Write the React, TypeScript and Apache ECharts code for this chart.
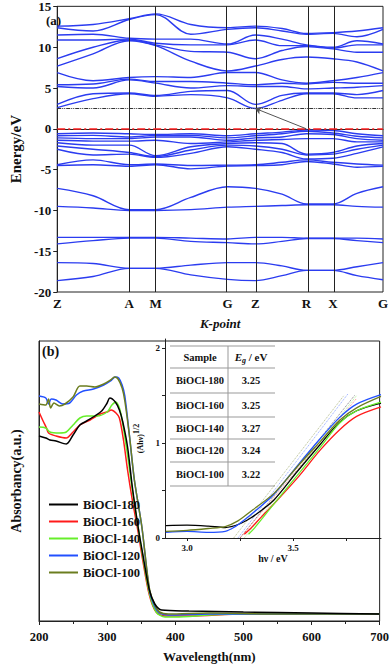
import React, { useEffect, useRef } from 'react';
import * as echarts from 'echarts';

const SERIF = "'Liberation Serif', 'Times New Roman', serif";

// ---------- Panel (a): band structure ----------
const kPos = [0, 0.11, 0.221, 0.302, 0.41, 0.523, 0.608, 0.69, 0.765, 0.846, 0.92, 1];
const kLabelPos = [0, 0.221, 0.302, 0.523, 0.608, 0.765, 0.846, 1];
const kLabels = ['Z', 'A', 'M', 'G', 'Z', 'R', 'X', 'G'];
const energyTicks = [-20, -15, -10, -5, 0, 5, 10, 15];
const cbmEnergy = 2.5;
const arrowFrom = [0.765, 0];
const arrowTo = [0.608, 2.5];

const conductionBands = [
  [12.6, 12.8, 13.5, 14.1, 12.8, 12.4, 12.6, 12.3, 11.7, 11.8, 12.0, 12.4],
  [12.4, 12.0, 13.4, 14.0, 11.6, 12.2, 12.4, 12.0, 11.6, 11.7, 11.3, 12.2],
  [11.5, 11.6, 11.1, 11.0, 11.0, 10.4, 11.5, 11.0, 10.3, 10.0, 10.8, 10.4],
  [10.9, 10.9, 11.0, 10.5, 10.3, 10.3, 10.9, 10.2, 10.2, 9.9, 10.3, 10.3],
  [8.6, 10.0, 10.9, 10.3, 9.5, 9.4, 8.6, 9.6, 10.1, 9.8, 9.4, 9.4],
  [7.7, 9.2, 10.8, 10.2, 8.3, 7.1, 7.7, 8.5, 8.8, 8.6, 8.2, 7.1],
  [6.9, 5.9, 6.3, 6.4, 6.3, 6.9, 6.9, 6.0, 5.6, 5.9, 6.3, 6.9],
  [5.4, 5.5, 6.1, 5.8, 5.8, 5.6, 5.4, 5.6, 5.5, 5.7, 5.6, 5.6],
  [5.2, 5.0, 6.0, 5.6, 5.0, 5.3, 5.2, 5.2, 4.9, 5.0, 5.1, 5.3],
  [3.0, 4.3, 4.4, 4.1, 4.6, 4.7, 3.0, 4.1, 4.4, 4.4, 4.2, 4.7],
  [2.6, 3.7, 4.3, 4.0, 4.2, 3.8, 2.5, 3.5, 4.3, 4.3, 3.8, 3.8],
];
const valenceBands = [
  [-0.6, -0.5, -0.6, -0.7, -0.6, -0.85, -0.6, -0.4, -0.15, -0.2, -0.6, -0.85],
  [-0.85, -0.8, -1.0, -0.8, -0.8, -1.1, -0.85, -0.6, -0.3, -0.5, -0.9, -1.1],
  [-1.1, -1.2, -1.2, -1.0, -1.0, -1.4, -1.1, -1.0, -0.6, -0.7, -1.2, -1.4],
  [-1.4, -1.5, -1.5, -1.4, -1.8, -1.6, -1.4, -1.3, -1.2, -1.2, -1.6, -1.6],
  [-1.7, -2.0, -2.0, -3.3, -2.2, -1.8, -1.7, -1.8, -3.1, -2.9, -2.1, -1.8],
  [-2.1, -2.5, -2.9, -3.4, -2.6, -2.0, -2.1, -2.5, -3.2, -3.1, -2.5, -2.0],
  [-2.5, -3.2, -3.1, -3.5, -3.0, -2.2, -2.5, -2.9, -3.7, -3.6, -3.0, -2.2],
  [-4.4, -3.8, -4.4, -4.3, -4.5, -4.45, -4.4, -4.1, -3.8, -4.1, -4.3, -4.45],
  [-4.5, -4.4, -4.6, -4.4, -4.9, -4.55, -4.5, -4.4, -4.0, -4.3, -4.7, -4.6],
];
const deepBands = [
  [-7.3, -8.2, -9.9, -9.9, -8.4, -7.1, -7.3, -8.0, -9.2, -9.2, -7.9, -7.1],
  [-9.5, -9.7, -10.0, -10.0, -9.9, -9.6, -9.5, -9.4, -9.3, -9.3, -9.5, -9.6],
  [-13.3, -13.3, -13.3, -13.3, -13.4, -13.5, -13.3, -13.3, -13.4, -13.4, -13.4, -13.5],
  [-14.1, -13.7, -13.4, -13.4, -13.8, -13.95, -14.1, -13.8, -13.45, -13.45, -13.7, -13.95],
  [-16.4, -16.5, -17.1, -17.1, -16.7, -16.4, -16.4, -16.8, -17.35, -17.35, -16.9, -16.4],
  [-18.6, -18.1, -17.1, -17.1, -17.9, -18.45, -18.6, -18.0, -17.35, -17.35, -18.0, -18.5],
];

// ---------- Panel (b): UV-vis absorbance ----------
const sampleNames = ['BiOCl-180', 'BiOCl-160', 'BiOCl-140', 'BiOCl-120', 'BiOCl-100'];
const sampleColors = ['#000000', '#ff1a1a', '#66ee2a', '#2250ff', '#6b7d1f'];
const bandGaps = ['3.25', '3.25', '3.27', '3.24', '3.22'];

const abs180 = [[200, 1.85], [210, 1.83], [216, 1.81], [225, 1.80], [240, 1.77], [250, 1.86], [260, 1.96], [270, 2.0], [282, 2.05], [292, 2.1], [300, 2.18], [304, 2.23], [312, 2.19], [318, 2.11], [323, 1.99], [330, 1.74], [337, 1.34], [345, 0.96], [352, 0.68], [362, 0.31], [370, 0.17], [380, 0.11], [420, 0.1], [500, 0.09], [600, 0.08], [700, 0.07]];
const abs160 = [[200, 2.09], [206, 2.0], [211, 1.93], [214, 1.88], [225, 1.85], [240, 1.83], [250, 1.89], [260, 1.96], [275, 2.01], [290, 2.07], [300, 2.09], [306, 2.11], [313, 2.08], [318, 2.03], [324, 1.81], [330, 1.51], [337, 1.21], [345, 0.91], [352, 0.62], [362, 0.26], [372, 0.09], [385, 0.05], [420, 0.05], [500, 0.07], [600, 0.07], [700, 0.07]];
const abs140 = [[200, 1.94], [210, 1.93], [216, 1.89], [230, 1.88], [240, 1.89], [250, 1.96], [260, 2.03], [270, 2.05], [285, 2.05], [300, 2.09], [307, 2.16], [313, 2.19], [318, 2.13], [322, 2.01], [330, 1.66], [337, 1.31], [345, 0.96], [352, 0.66], [362, 0.28], [372, 0.09], [385, 0.04], [400, 0.04], [450, 0.06], [500, 0.07], [600, 0.07], [700, 0.07]];
const abs120 = [[200, 2.25], [210, 2.23], [214, 2.17], [218, 2.22], [225, 2.21], [235, 2.17], [245, 2.18], [255, 2.26], [265, 2.3], [280, 2.32], [295, 2.36], [305, 2.4], [312, 2.44], [317, 2.43], [322, 2.36], [326, 2.25], [333, 1.84], [340, 1.41], [351, 0.94], [362, 0.31], [370, 0.14], [377, 0.08], [390, 0.06], [450, 0.07], [550, 0.07], [700, 0.07]];
const abs100 = [[200, 2.17], [210, 2.16], [214, 2.22], [217, 2.13], [222, 2.18], [230, 2.15], [238, 2.17], [250, 2.24], [260, 2.35], [270, 2.35], [282, 2.34], [295, 2.37], [305, 2.41], [311, 2.44], [316, 2.42], [322, 2.33], [326, 2.2], [333, 1.84], [340, 1.41], [351, 0.94], [362, 0.33], [370, 0.16], [377, 0.09], [390, 0.07], [450, 0.08], [550, 0.07], [700, 0.07]];
const absorbance = [abs180, abs160, abs140, abs120, abs100];

// inset: Tauc plot (hv, (Ahv)^1/2)
const tauc180 = [[2.9, 0.13], [3.0, 0.135], [3.1, 0.125], [3.18, 0.11], [3.25, 0.15], [3.3, 0.21], [3.35, 0.29], [3.41, 0.4], [3.52, 0.7], [3.63, 0.99], [3.72, 1.22], [3.8, 1.34], [3.915, 1.42]];
const tauc160 = [[3.27, 0.04], [3.3, 0.1], [3.35, 0.22], [3.41, 0.36], [3.52, 0.63], [3.63, 0.93], [3.72, 1.14], [3.8, 1.28], [3.915, 1.38]];
const tauc140 = [[3.29, 0.04], [3.32, 0.11], [3.36, 0.22], [3.41, 0.36], [3.52, 0.66], [3.63, 0.96], [3.72, 1.21], [3.8, 1.34], [3.915, 1.43]];
const tauc120 = [[2.9, 0.06], [3.0, 0.07], [3.1, 0.06], [3.18, 0.07], [3.22, 0.11], [3.27, 0.19], [3.33, 0.3], [3.41, 0.46], [3.52, 0.76], [3.63, 1.05], [3.72, 1.27], [3.8, 1.41], [3.915, 1.51]];
const tauc100 = [[2.9, 0.07], [3.0, 0.08], [3.1, 0.1], [3.18, 0.12], [3.24, 0.18], [3.3, 0.28], [3.41, 0.47], [3.52, 0.75], [3.63, 1.02], [3.72, 1.24], [3.8, 1.37], [3.915, 1.49]];
const tauc = [tauc180, tauc160, tauc140, tauc120, tauc100];
const tangentTops = [[3.79, 1.5], [3.8, 1.47], [3.8, 1.5], [3.76, 1.52], [3.74, 1.5]];
const insetXLabels = [3.0, 3.5];
const insetXTicks = [3.0, 3.25, 3.5, 3.75];
const insetYLabels = [0, 1, 2];
const insetYTicks = [0, 0.5, 1, 1.5, 2];

const BAND_COLOR = '#2b3cf0';

function buildOption() {
  const allBands = [...conductionBands, ...valenceBands, ...deepBands];
  const bandSeries: any[] = allBands.map((b, bi) => ({
    name: 'band' + bi,
    type: 'line',
    xAxisIndex: 0,
    yAxisIndex: 0,
    data: kPos.map((k, i) => [k, b[i]]),
    showSymbol: false,
    smooth: 0.35,
    lineStyle: { color: BAND_COLOR, width: 1.4 },
    silent: true,
    z: 3,
  }));

  const refLines: any = {
    name: 'refs',
    type: 'line',
    xAxisIndex: 0,
    yAxisIndex: 0,
    data: [],
    silent: true,
    z: 4,
    markLine: {
      silent: true,
      symbol: 'none',
      label: { show: false },
      data: [
        ...kLabelPos.slice(1, -1).map((x) => ({ xAxis: x, lineStyle: { color: '#222', width: 1, type: 'solid' } })),
        { yAxis: 0, lineStyle: { color: '#ff2020', width: 1.5, type: [8, 3, 2, 3] } },
        { yAxis: cbmEnergy, lineStyle: { color: '#333', width: 1, type: [4, 1, 1, 1, 1, 1] } },
        [
          { coord: arrowFrom, symbol: 'none' },
          { coord: arrowTo, symbol: 'arrow', symbolSize: 6 },
        ],
      ],
      lineStyle: { color: '#555', width: 1, type: 'solid' },
    },
  };

  const absSeries = absorbance.map((d, i) => ({
    name: sampleNames[i],
    type: 'line',
    xAxisIndex: 1,
    yAxisIndex: 1,
    data: d,
    showSymbol: false,
    smooth: 0.3,
    lineStyle: { color: sampleColors[i], width: 1.5 },
    itemStyle: { color: sampleColors[i] },
    z: 3 + (i === 0 ? 5 : 0),
  }));

  const taucSeries = tauc.map((d, i) => ({
    name: sampleNames[i],
    type: 'line',
    xAxisIndex: 2,
    yAxisIndex: 2,
    data: d,
    showSymbol: false,
    smooth: 0.3,
    lineStyle: { color: sampleColors[i], width: 1.3 },
    itemStyle: { color: sampleColors[i] },
    z: 3,
  }));

  const tangentSeries = tangentTops.map((t, i) => ({
    name: 'tangent' + i,
    type: 'line',
    xAxisIndex: 2,
    yAxisIndex: 2,
    data: [[parseFloat(bandGaps[i]), 0], t],
    showSymbol: false,
    lineStyle: { color: sampleColors[i], width: 1, type: 'dotted', opacity: 0.5 },
    silent: true,
    z: 2,
  }));

  // table in inset
  const tLeft = 170, tRight = 275, tMid = 228;
  const rowLines = [346, 368, 393, 417, 439, 462, 486];
  const tableEls: any[] = [];
  rowLines.forEach((y) => {
    tableEls.push({ type: 'line', shape: { x1: tLeft, y1: y, x2: tRight, y2: y }, style: { stroke: '#999', lineWidth: 1 } });
  });
  tableEls.push({ type: 'line', shape: { x1: tMid, y1: rowLines[0], x2: tMid, y2: rowLines[rowLines.length - 1] }, style: { stroke: '#999', lineWidth: 1 } });
  const cellText = (x: number, y: number, t: string, extra: any = {}) => ({
    type: 'text', x, y,
    style: { text: t, fontFamily: SERIF, fontWeight: 'bold', fontSize: 10.5, fill: '#111', align: 'center', verticalAlign: 'middle', ...extra },
  });
  tableEls.push(cellText(200, 357, 'Sample'));
  tableEls.push(cellText(251, 357, '{i|E}{s|g}{n| / eV}', {
    rich: {
      i: { fontStyle: 'italic', fontWeight: 'bold', fontSize: 11, fontFamily: SERIF, fill: '#111' },
      s: { fontStyle: 'italic', fontWeight: 'bold', fontSize: 8, fontFamily: SERIF, fill: '#111', padding: [7, 0, 0, 0] },
      n: { fontWeight: 'bold', fontSize: 11, fontFamily: SERIF, fill: '#111' },
    },
  }));
  sampleNames.forEach((n, i) => {
    const yc = (rowLines[i + 1] + rowLines[i + 2]) / 2;
    tableEls.push(cellText(200, yc, n));
    tableEls.push(cellText(251, yc, bandGaps[i]));
  });

  return {
    animation: false,
    backgroundColor: '#fff',
    textStyle: { fontFamily: SERIF },
    grid: [
      { left: 39, top: 6, width: 344, height: 286, show: true, borderColor: '#222', borderWidth: 1, backgroundColor: 'transparent' },
      { left: 39, top: 341, width: 342, height: 280, show: true, borderColor: '#222', borderWidth: 1, backgroundColor: 'transparent' },
      { left: 165, top: 339, width: 216, height: 199, show: false },
    ],
    xAxis: [
      {
        gridIndex: 0, type: 'value', min: 0, max: 1,
        axisLine: { show: true, lineStyle: { color: '#222' } },
        axisTick: { show: false },
        splitLine: { show: false },
        axisLabel: {
          customValues: kLabelPos,
          showMinLabel: true, showMaxLabel: true, hideOverlap: false,
          margin: 5,
          formatter: (v: number) => {
            const i = kLabelPos.findIndex((p) => Math.abs(p - v) < 1e-6);
            return i >= 0 ? kLabels[i] : '';
          },
          color: '#111', fontFamily: SERIF, fontWeight: 'bold', fontSize: 13,
        },
        name: 'K-point', nameLocation: 'middle', nameGap: 25,
        nameTextStyle: { fontFamily: SERIF, fontWeight: 'bold', fontStyle: 'italic', fontSize: 13, color: '#111' },
      },
      {
        gridIndex: 1, type: 'value', min: 200, max: 700, interval: 100,
        axisLine: { show: true, lineStyle: { color: '#222' } },
        axisTick: { show: true, length: 4, lineStyle: { color: '#222' } },
        minorTick: { show: true, splitNumber: 2, length: 3, lineStyle: { color: '#222' } },
        splitLine: { show: false },
        axisLabel: {
          showMinLabel: true, showMaxLabel: true,
          margin: 9, color: '#111', fontFamily: SERIF, fontWeight: 'bold', fontSize: 12.5,
        },
        name: 'Wavelength(nm)', nameLocation: 'middle', nameGap: 29,
        nameTextStyle: { fontFamily: SERIF, fontWeight: 'bold', fontSize: 13, color: '#111' },
      },
      {
        gridIndex: 2, type: 'value', min: 2.896, max: 3.915,
        axisLine: { show: true, onZero: false, lineStyle: { color: '#222' } },
        axisTick: { show: true, customValues: insetXTicks, length: 3, lineStyle: { color: '#222' } },
        splitLine: { show: false },
        axisLabel: {
          customValues: insetXLabels,
          formatter: (v: number) => v.toFixed(1),
          margin: 5, color: '#111', fontFamily: SERIF, fontWeight: 'bold', fontSize: 9,
        },
        name: 'hν / eV', nameLocation: 'middle', nameGap: 15,
        nameTextStyle: { fontFamily: SERIF, fontWeight: 'bold', fontSize: 10, color: '#111' },
      },
    ],
    yAxis: [
      {
        gridIndex: 0, type: 'value', min: -20, max: 15.02,
        axisLine: { show: true, lineStyle: { color: '#222' } },
        axisTick: { show: true, customValues: energyTicks, length: 4, lineStyle: { color: '#222' } },
        splitLine: { show: false },
        axisLabel: {
          customValues: energyTicks,
          margin: 6, color: '#111', fontFamily: SERIF, fontWeight: 'bold', fontSize: 13,
        },
        name: 'Energy/eV', nameLocation: 'middle', nameGap: 22,
        nameTextStyle: { fontFamily: SERIF, fontWeight: 'bold', fontSize: 15, color: '#111' },
      },
      {
        gridIndex: 1, type: 'value', min: 0, max: 2.8,
        axisLine: { show: true, lineStyle: { color: '#222' } },
        axisTick: { show: false },
        axisLabel: { show: false },
        splitLine: { show: false },
        name: 'Absorbancy(a.u.)', nameLocation: 'middle', nameGap: 16,
        nameTextStyle: { fontFamily: SERIF, fontWeight: 'bold', fontSize: 14, color: '#111' },
      },
      {
        gridIndex: 2, type: 'value', min: 0, max: 2.095,
        axisLine: { show: true, onZero: false, lineStyle: { color: '#222' } },
        axisTick: { show: true, customValues: insetYTicks, length: 3, lineStyle: { color: '#222' } },
        splitLine: { show: false },
        axisLabel: {
          customValues: insetYLabels,
          margin: 5, color: '#111', fontFamily: SERIF, fontWeight: 'bold', fontSize: 9,
        },
        name: '(Ahν){s|1/2}', nameLocation: 'middle', nameGap: 14,
        nameTextStyle: {
          fontFamily: SERIF, fontWeight: 'bold', fontSize: 8, color: '#111',
          rich: { s: { fontFamily: SERIF, fontWeight: 'bold', fontSize: 8, color: '#111', padding: [0, 0, 8, 0] } },
        },
      },
    ],
    legend: {
      data: sampleNames,
      orient: 'vertical',
      left: 44,
      top: 492,
      icon: 'rect',
      itemWidth: 29,
      itemHeight: 2,
      itemGap: 2,
      selectedMode: false,
      textStyle: { fontFamily: SERIF, fontWeight: 'bold', fontSize: 12.5, lineHeight: 15, color: '#111' },
    },
    graphic: [
      { type: 'text', x: 46, y: 14, style: { text: '(a)', fontFamily: SERIF, fontWeight: 'bold', fontSize: 13, fill: '#111', verticalAlign: 'top' } },
      { type: 'text', x: 42, y: 344, style: { text: '(b)', fontFamily: SERIF, fontWeight: 'bold', fontSize: 14, fill: '#111', verticalAlign: 'top' } },
      ...tableEls,
    ],
    series: [...bandSeries, refLines, ...absSeries, ...tangentSeries, ...taucSeries],
  };
}

export default function App() {
  const ref = useRef<HTMLDivElement>(null);
  useEffect(() => {
    document.body.style.margin = '0';
    const chart = echarts.init(ref.current as HTMLDivElement, null, { renderer: 'svg' });
    chart.setOption(buildOption() as any);
    return () => chart.dispose();
  }, []);
  return <div ref={ref} style={{ width: 392, height: 665, position: 'absolute', left: 0, top: 0 }} />;
}
